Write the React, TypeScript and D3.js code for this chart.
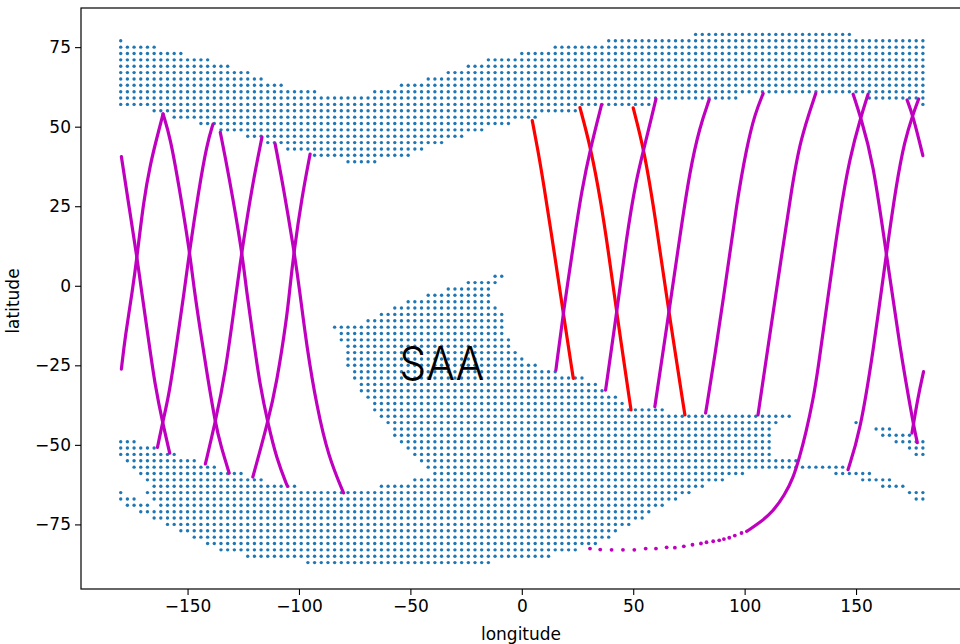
import React, { useEffect, useRef } from 'react';
import * as d3 from 'd3';

type Span = [number, number];
type Row = [number, Span[]];
type Pt = [number, number];

// Grid cells: latitude, then the lon spans that carry dots
const northRows: Row[] = [
  [79, [[78, 147]]],
  [77, [[-180, -180], [39, 180]]],
  [75, [[-180, -165], [15, 180]]],
  [73, [[-180, -153], [0, 180]]],
  [71, [[-180, -141], [-15, 180]]],
  [69, [[-180, -132], [-24, 180]]],
  [67, [[-180, -123], [-33, 180]]],
  [65, [[-180, -117], [-42, 180]]],
  [63, [[-180, -108], [-54, 180]]],
  [61, [[-180, -93], [-66, 180]]],
  [59, [[-180, 96], [156, 180]]],
  [57, [[-180, 57], [180, 180]]],
  [55, [[-165, 24]]],
  [53, [[-156, 6]]],
  [51, [[-144, -6]]],
  [49, [[-135, -18]]],
  [47, [[-123, -27]]],
  [45, [[-114, -36]]],
  [43, [[-105, -45]]],
  [41, [[-93, -51]]],
  [39, [[-78, -66]]],
];

const southRows: Row[] = [
  [3, [[-12, -9]]],
  [1, [[-24, -12]]],
  [-1, [[-33, -15]]],
  [-3, [[-42, -15]]],
  [-5, [[-51, -15]]],
  [-7, [[-57, -12]]],
  [-9, [[-63, -9]]],
  [-11, [[-69, -9]]],
  [-13, [[-84, -9]]],
  [-15, [[-81, -9]]],
  [-17, [[-81, -6]]],
  [-19, [[-78, -6]]],
  [-21, [[-78, -3]]],
  [-23, [[-78, 0]]],
  [-25, [[-78, 6]]],
  [-27, [[-75, 15]]],
  [-29, [[-75, 27]]],
  [-31, [[-72, 33]]],
  [-33, [[-72, 36]]],
  [-35, [[-69, 42]]],
  [-37, [[-66, 45]]],
  [-39, [[-66, 63]]],
  [-41, [[-63, 120]]],
  [-43, [[-60, 114], [150, 150]]],
  [-45, [[-57, 111], [159, 165]]],
  [-47, [[-57, 111], [162, 174]]],
  [-49, [[-180, -174], [-54, 111], [168, 180]]],
  [-51, [[-180, -165], [-51, 111], [174, 180]]],
  [-53, [[-180, -156], [-48, 111], [177, 180]]],
  [-55, [[-177, -147], [-45, 123]]],
  [-57, [[-174, -138], [-42, 144]]],
  [-59, [[-171, -126], [-39, 99], [141, 156]]],
  [-61, [[-168, -117], [-48, 90], [153, 165]]],
  [-63, [[-165, -102], [-63, 81], [162, 171]]],
  [-65, [[-180, -180], [-168, 75], [174, 180]]],
  [-67, [[-180, -174], [-165, 69], [177, 180]]],
  [-69, [[-177, -168], [-162, 63]]],
  [-71, [[-171, 57]]],
  [-73, [[-165, 54]]],
  [-75, [[-159, 48]]],
  [-77, [[-153, 42]]],
  [-79, [[-147, 39]]],
  [-81, [[-141, 33]]],
  [-83, [[-135, 24]]],
  [-85, [[-123, 12]]],
  [-87, [[-96, -15]]],
];

// Red passes
const red1: Pt[] = [[4.7, 51.9], [7, 43.5], [9.6, 33], [14.9, 9], [18.6, -8.5], [23.1, -29.1]];
const red2: Pt[] = [[26.1, 56], [30.9, 43.5], [35.4, 26.8], [38.8, 11.1], [42.6, -8.5], [49, -39]];
const red3: Pt[] = [[50, 55.9], [54.8, 43], [59.7, 22.6], [66, -8.5], [73.2, -40.6]];

// Magenta passes, west of the SAA
const trackA: Pt[] = [[-179.7, 40.6], [-176.3, 25], [-172.7, 9], [-170.7, -1.4], [-167.5, -17], [-164.5, -31.7], [-161.2, -43], [-158, -52.6]];
const trackB: Pt[] = [[-179.7, -26.2], [-178, -16], [-174.7, -1.4], [-172.7, 9], [-169.7, 26.8], [-166.7, 38.3], [-163.7, 46.7], [-161, 54]];
const trackC: Pt[] = [[-161, 54], [-157.8, 46.7], [-154, 32], [-149.1, 11], [-147, -1.4], [-144.3, -14], [-141.3, -27.5], [-137.6, -43], [-135, -50.5], [-131.3, -58.9]];
const trackD: Pt[] = [[-163.5, -50.8], [-161.2, -43], [-158.5, -34.9], [-155.5, -21.3], [-151.4, -1.4], [-149.1, 11], [-145, 30], [-141.3, 44.6], [-138.6, 50.8]];
const trackE: Pt[] = [[-135.3, 48.2], [-131.6, 35.2], [-125.6, 11], [-123.6, -1.4], [-120.4, -17], [-117.4, -31.7], [-114, -43], [-109.9, -54.7], [-105.2, -63]];
const trackF: Pt[] = [[-142, -56], [-137.6, -43], [-133, -27.5], [-128, -1.4], [-125.6, 11], [-121.1, 31], [-116.6, 46.7]];
const trackG: Pt[] = [[-120.7, -60.1], [-114, -43], [-110, -30.7], [-105.4, -9.8], [-104.2, -1.4], [-102.2, 11], [-98.7, 27.8], [-95, 41.4]];
const trackH: Pt[] = [[-110.7, 44.6], [-107, 31], [-102.2, 11], [-99.7, -1.4], [-96.5, -19.2], [-92, -38], [-86.8, -53.7], [-80, -65.1]];

// Magenta passes, east of the SAA
const track1: Pt[] = [[15.3, -26.5], [18.6, -8.5], [23.9, 16.4], [26.9, 29.9], [30.9, 43.5], [35.8, 56.9]];
const track2: Pt[] = [[37.6, -32.8], [42.6, -8.5], [47, 15.3], [51.2, 33], [54.8, 43], [60.2, 58.7]];
const track3: Pt[] = [[59.7, -38], [66, -8.5], [70.9, 15.3], [75.4, 36.2], [79.9, 50], [84.1, 58.5]];
const track4: Pt[] = [[82.5, -40], [86.6, -22.3], [91.9, 2.8], [96.4, 25.8], [100.9, 43.5], [104.6, 54], [108.3, 60.4]];
const track5: Pt[] = [[106, -40.6], [110.5, -19.2], [116.5, 9], [121, 29.9], [124.8, 45.6], [131.9, 60.4]];
const track6: Pt[] = [[100.9, -77.2], [106.8, -74.5], [112.8, -70.9], [118, -65.7], [121.8, -60.4], [124.6, -54], [127.5, -46.3], [130.7, -35.9], [132.8, -27], [137.4, -3.5], [142.7, 22.6], [147.2, 40.4], [152.1, 52.9], [155.4, 60.2]];
const track7: Pt[] = [[146.4, -57.8], [151.7, -46.3], [157.6, -21.3], [163.6, 10.1], [168.1, 32], [171.8, 45.6], [175.6, 54], [178.1, 58.7]];
const track8: Pt[] = [[148.7, 60.2], [152.1, 52.9], [157.6, 39.3], [163.6, 10.1], [169.6, -19.2], [175.6, -43.2], [177.5, -49.3]];
const track9: Pt[] = [[172.9, 58.4], [175.6, 53.4], [180, 40.9]];
const track10: Pt[] = [[175.1, -46.3], [177.8, -34.9], [180.3, -27]];

// The sparse single samples at the end of track6
const tailDots: Pt[] = [[98.6, -77.7], [95.6, -78.5], [93.1, -79.2], [90.7, -79.6], [88.6, -80], [85.9, -80.3], [82.9, -80.6], [80.4, -81], [76.6, -81.4], [72.7, -81.9], [68.7, -82.3], [65, -82.2], [60.2, -82.6], [55.6, -82.6], [50.5, -83], [45.4, -83], [40.3, -83], [35.2, -82.9], [30.6, -82.6]];

const redTracks = [red1, red2, red3];
const magentaTracks = [trackA, trackB, trackC, trackD, trackE, trackF, trackG, trackH, track1, track2, track3, track4, track5, track6, track7, track8, track9, track10];

const xTicks = [-150, -100, -50, 0, 50, 100, 150];
const yTicks = [-75, -50, -25, 0, 25, 50, 75];

function App() {
  const container = useRef<SVGSVGElement | null>(null);

  useEffect(() => {
    if (!container.current) return;
    const svg = d3.select(container.current);
    svg.selectAll('*').remove();

    const x = d3.scaleLinear().domain([-198, 198]).range([80.6, 963]);
    const y = d3.scaleLinear().domain([-95.3, 87.3]).range([589, 8]);

    // Blue grid dots
    const dots: Pt[] = [...northRows, ...southRows].flatMap(([lat, spans]) =>
      spans.flatMap(([a, b]) => d3.range(a, b + 1, 3).map((lon) => [lon, lat] as Pt)),
    );
    svg.append('g')
      .selectAll('circle')
      .data(dots)
      .enter()
      .append('circle')
      .attr('cx', (d) => x(d[0]))
      .attr('cy', (d) => y(d[1]))
      .attr('r', 1.7)
      .attr('fill', '#1f77b4');

    const line = d3.line<Pt>()
      .x((d) => x(d[0]))
      .y((d) => y(d[1]))
      .curve(d3.curveBasis);

    svg.append('g')
      .selectAll('path')
      .data(redTracks)
      .enter()
      .append('path')
      .attr('d', (d) => line(d))
      .attr('fill', 'none')
      .attr('stroke', '#ff0000')
      .attr('stroke-width', 3.2)
      .attr('stroke-linecap', 'round');

    svg.append('g')
      .selectAll('path')
      .data(magentaTracks)
      .enter()
      .append('path')
      .attr('d', (d) => line(d))
      .attr('fill', 'none')
      .attr('stroke', '#bf00bf')
      .attr('stroke-width', 3.2)
      .attr('stroke-linecap', 'round');

    svg.append('g')
      .selectAll('circle')
      .data(tailDots)
      .enter()
      .append('circle')
      .attr('cx', (d) => x(d[0]))
      .attr('cy', (d) => y(d[1]))
      .attr('r', 1.9)
      .attr('fill', '#bf00bf');

    svg.append('text')
      .attr('x', x(-55))
      .attr('y', y(-29.5))
      .attr('font-family', 'Inter')
      .attr('font-weight', 300)
      .attr('font-size', 46)
      .attr('textLength', 85)
      .attr('lengthAdjust', 'spacingAndGlyphs')
      .attr('fill', '#000')
      .text('SAA');

    // Axes
    const xAxis = svg.append('g')
      .attr('transform', 'translate(0,589)')
      .call(d3.axisBottom(x).tickValues(xTicks).tickSize(6).tickPadding(5).tickSizeOuter(0));
    const yAxis = svg.append('g')
      .attr('transform', 'translate(81,0)')
      .call(d3.axisLeft(y).tickValues(yTicks).tickSize(6).tickPadding(4).tickSizeOuter(0));
    [xAxis, yAxis].forEach((g) => {
      g.select('.domain').remove();
      g.selectAll('text').attr('font-family', 'DejaVu Sans').attr('font-size', 17).attr('fill', '#000');
      g.selectAll('line').attr('stroke', '#000').attr('stroke-width', 1.1);
    });

    // Frame, the right side falls just outside the page
    svg.append('rect')
      .attr('x', 81)
      .attr('y', 8)
      .attr('width', 882)
      .attr('height', 581)
      .attr('fill', 'none')
      .attr('stroke', '#000')
      .attr('stroke-width', 1.2);

    svg.append('text')
      .attr('x', 521)
      .attr('y', 640)
      .attr('text-anchor', 'middle')
      .attr('font-family', 'DejaVu Sans')
      .attr('font-size', 17)
      .attr('fill', '#000')
      .text('longitude');

    svg.append('text')
      .attr('transform', 'translate(19,301) rotate(-90)')
      .attr('text-anchor', 'middle')
      .attr('font-family', 'DejaVu Sans')
      .attr('font-size', 17)
      .attr('fill', '#000')
      .text('latitude');
  }, []);

  return (
    <svg
      ref={container}
      width={960}
      height={644}
      style={{ position: 'absolute', left: 0, top: 0, display: 'block', background: '#fff' }}
    />
  );
}

export default App;
